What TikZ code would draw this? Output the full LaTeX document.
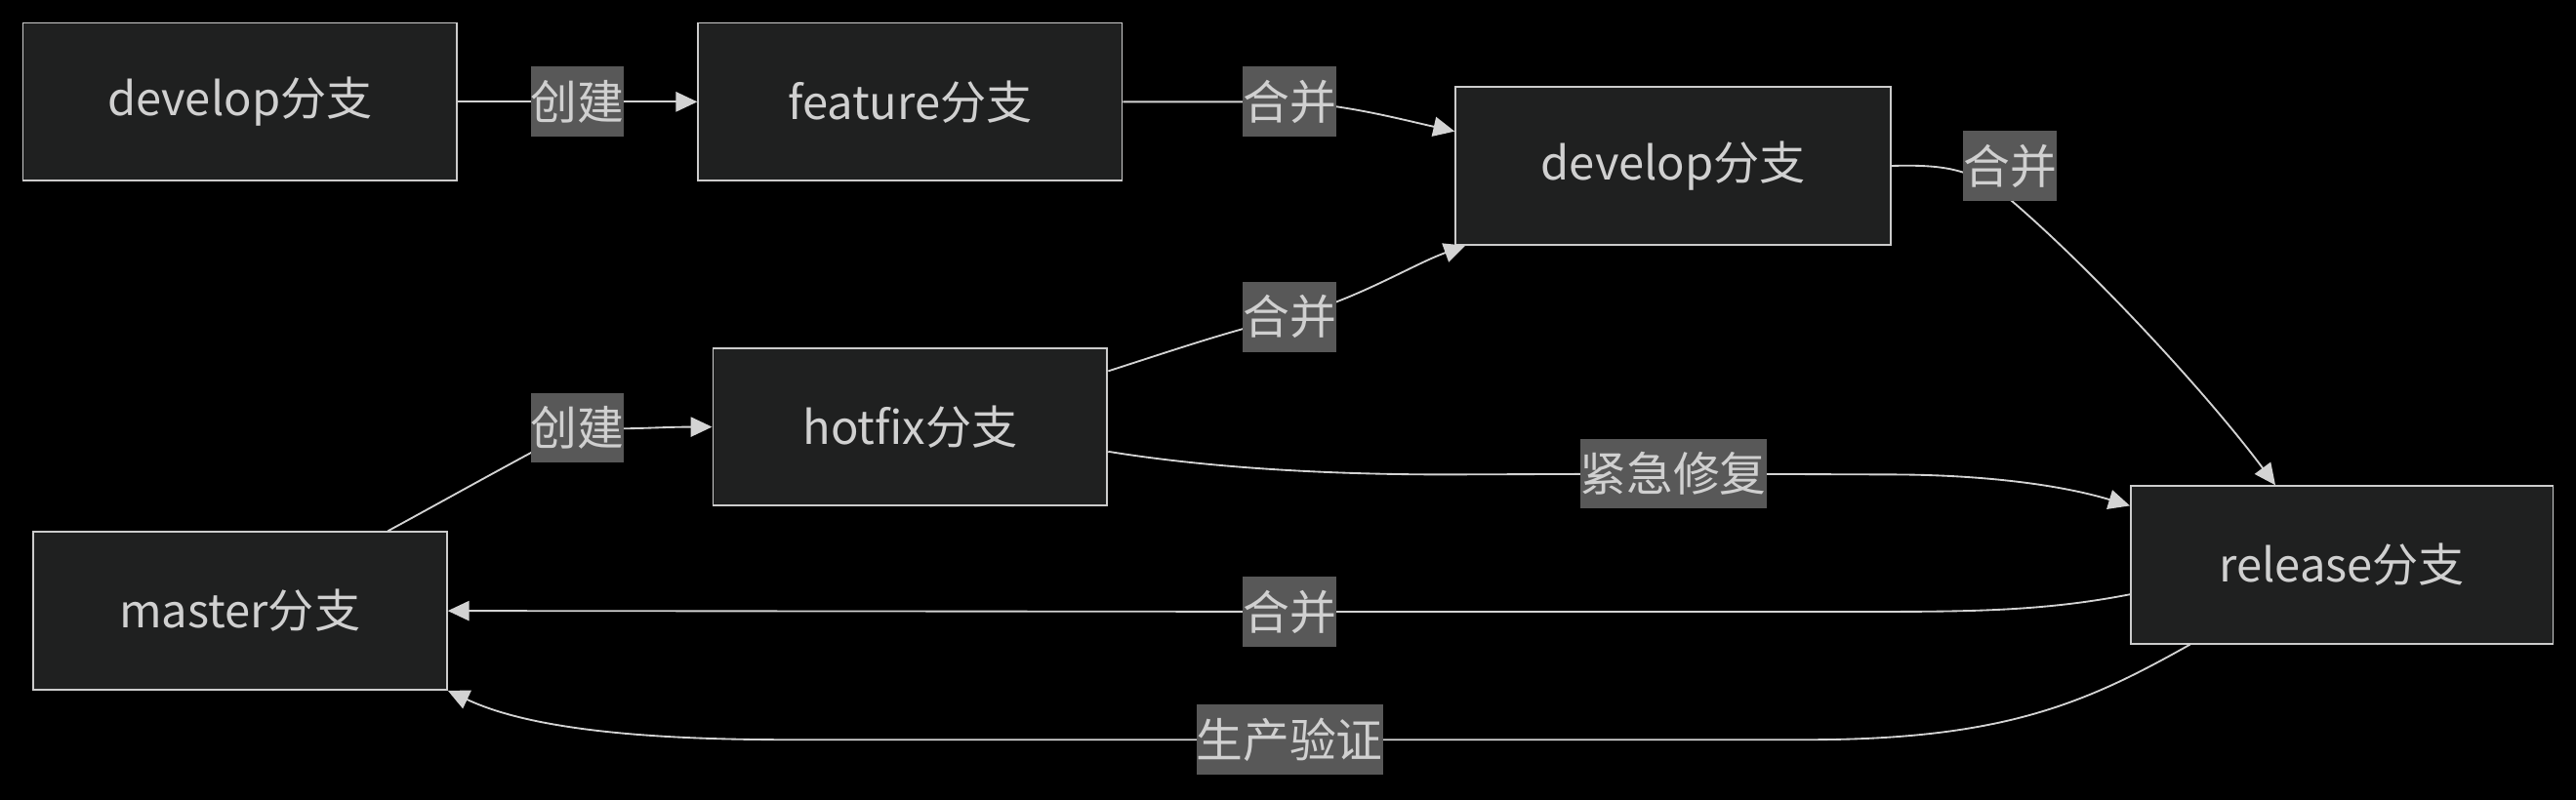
\documentclass[tikz,border=0pt]{standalone}
\usepackage{fontspec}
\setmainfont{Noto Sans CJK SC}
\usetikzlibrary{arrows.meta}
\definecolor{bgcol}{HTML}{000000}
\definecolor{nodefill}{HTML}{1F2020}
\definecolor{nodeline}{HTML}{CCCCCC}
\definecolor{txtcol}{HTML}{D0D0D0}
\definecolor{edgecol}{HTML}{D3D3D3}
\definecolor{lblbg}{HTML}{585858}
\tikzset{
  branch/.style={draw=nodeline, fill=nodefill, line width=1.1pt, text=txtcol,
    font=\fontsize{28}{34}\selectfont, minimum height=96pt, inner sep=0pt},
  elabel/.style={fill=lblbg, text=txtcol, font=\fontsize{28.4}{34}\selectfont,
    inner xsep=0pt, inner ysep=0pt, minimum height=42.6pt},
  edge/.style={draw=edgecol, line width=1.1pt, -{Triangle[length=13pt,width=12pt]}},
}
\begin{document}
\begin{tikzpicture}[x=1pt,y=-1pt]
\fill[bgcol] (0,0) rectangle (1568,487);
\useasboundingbox (0,0) rectangle (1568,487);

% nodes
\node[branch, minimum width=264pt] (dev1) at (146,62) {develop分支};
\node[branch, minimum width=258pt] (feat) at (554,62) {feature分支};
\node[branch, minimum width=265pt] (dev2) at (1018.5,101) {develop分支};
\node[branch, minimum width=240pt] (hot) at (554,260) {hotfix分支};
\node[branch, minimum width=252pt] (mast) at (146,372) {master分支};
\node[branch, minimum width=257pt] (rel) at (1425.5,344) {release分支};

% label positions
\coordinate (c1) at (351.5,62);
\coordinate (c2) at (785,62);
\coordinate (c3) at (1223.5,101);
\coordinate (c4) at (785,193);
\coordinate (c5) at (351.5,260.5);
\coordinate (c6) at (1018.5,288.5);
\coordinate (c7) at (785,372.5);
\coordinate (c8) at (785,450.5);

% edges
\draw[edge] (dev1.east) -- (c1) -- (feat.west);
\draw[edge] (feat.east) .. controls (735,62) and (755,62) .. (c2)
  .. controls (820,64) and (850,72) .. ([yshift=21pt]dev2.west);
\draw[edge] (dev2.east) .. controls (1185,100) and (1195,104) .. (1212,112)
  .. controls (1260,150) and (1340,235) .. ([xshift=-40.5pt]rel.north);
\draw[edge] ([yshift=34pt]hot.east) .. controls (715,213) and (750,201) .. (c4)
  .. controls (825,183) and (860,161) .. ([xshift=-126.5pt]dev2.south);
\draw[edge] ([xshift=90pt]mast.north) .. controls (270,305) and (300,288) .. (c5)
  .. controls (380,262) and (400,260) .. (hot.west);
\draw[edge] ([yshift=-15pt]hot.east) .. controls (730,284) and (800,289) .. (880,289)
  -- (c6) -- (1150,289) .. controls (1200,289) and (1250,294) .. ([yshift=36pt]rel.west);
\draw[edge] ([yshift=-18pt]rel.west) .. controls (1250,371) and (1210,372.5) .. (1150,372.5)
  -- (c7) -- (mast.east);
\draw[edge] ([xshift=-92.5pt]rel.south) .. controls (1270,428) and (1220,450.5) .. (1100,450.5)
  -- (c8) -- (480,450.5) .. controls (360,450.5) and (310,438) .. (mast.south east);

% labels
\node[elabel] (l1) at (c1) {创建};
\node[elabel] (l2) at (c2) {合并};
\node[elabel] (l3) at (c3) {合并};
\node[elabel] (l4) at (c4) {合并};
\node[elabel] (l5) at (c5) {创建};
\node[elabel] (l6) at (c6) {紧急修复};
\node[elabel] (l7) at (c7) {合并};
\node[elabel] (l8) at (c8) {生产验证};
\end{tikzpicture}
\end{document}
